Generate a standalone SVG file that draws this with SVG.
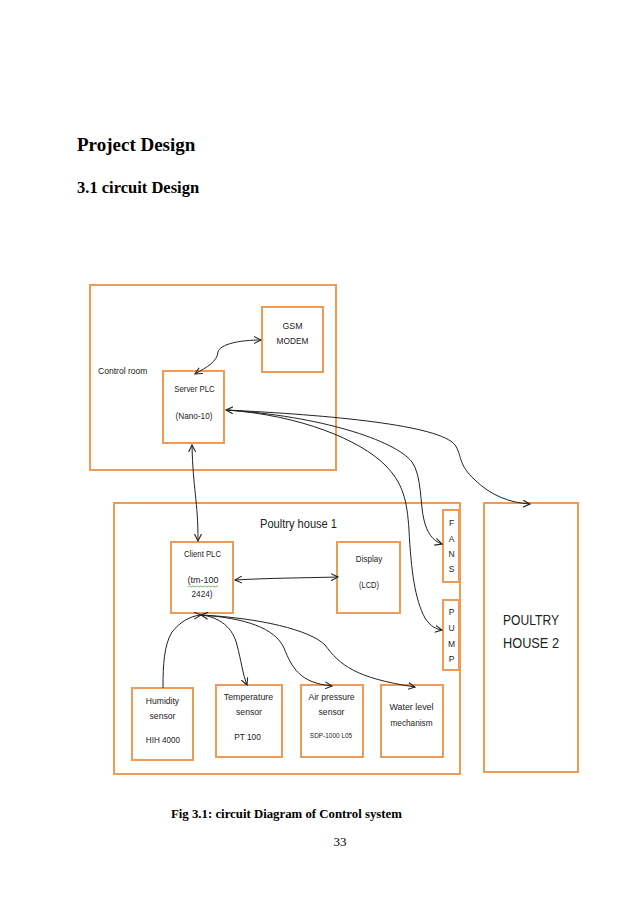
<svg xmlns="http://www.w3.org/2000/svg" width="638" height="903" viewBox="0 0 638 903">
<style>
.box{fill:none;stroke:#F09A55;stroke-width:2}
.lbl{font-family:"Liberation Sans",Arial,sans-serif;fill:#222;text-anchor:middle}
.hd{font-family:"Liberation Serif","Times New Roman",serif;font-weight:bold;fill:#000}
.conn{fill:none;stroke:#222;stroke-width:1}
</style>
<defs>
<marker id="ah" viewBox="0 0 8 8" refX="7" refY="4" markerWidth="8" markerHeight="8" markerUnits="userSpaceOnUse" orient="auto-start-reverse">
<path d="M0,0.5 L7,4 L0,7.5" fill="none" stroke="#222" stroke-width="1.1"/>
</marker>
</defs>
<rect width="638" height="903" fill="#fff"/>
<text class="hd" x="77" y="151" font-size="19">Project Design</text>
<text class="hd" x="77" y="193" font-size="16.5">3.1 circuit Design</text>

<g id="control-room">
<rect class="box" x="90" y="285" width="246" height="185"/>
<text class="lbl" x="98" y="374" font-size="9.3" textLength="49.5" lengthAdjust="spacingAndGlyphs" style="text-anchor:start">Control  room</text>
</g>
<g id="gsm-modem">
<rect class="box" x="262" y="307" width="61" height="65"/>
<text class="lbl" x="292.5" y="329" font-size="9.3" textLength="20" lengthAdjust="spacingAndGlyphs">GSM</text>
<text class="lbl" x="292.5" y="344" font-size="9.3" textLength="32" lengthAdjust="spacingAndGlyphs">MODEM</text>
</g>
<g id="server-plc">
<rect class="box" x="163" y="371" width="61" height="72"/>
<text class="lbl" x="194.5" y="392" font-size="9.3" textLength="40.5" lengthAdjust="spacingAndGlyphs">Server PLC</text>
<text class="lbl" x="194" y="419" font-size="9.3" textLength="37" lengthAdjust="spacingAndGlyphs">(Nano-10)</text>
</g>
<g id="poultry-house-1">
<rect class="box" x="114" y="503" width="346" height="271"/>
<text class="lbl" x="260" y="528" font-size="12" textLength="77" lengthAdjust="spacingAndGlyphs" style="text-anchor:start">Poultry house 1</text>
</g>
<g id="client-plc">
<rect class="box" x="171" y="542" width="62" height="71"/>
<text class="lbl" x="202.5" y="557" font-size="8.5" textLength="37" lengthAdjust="spacingAndGlyphs">Client  PLC</text>
<text class="lbl" x="203" y="583" font-size="9.3" textLength="31" lengthAdjust="spacingAndGlyphs">(tm-100</text>
<path d="M188,586.5 q1,-1 2,0 t2,0 t2,0 t2,0 t2,0 t2,0 t2,0 t2,0 t2,0 t2,0 t2,0 t2,0 t2,0 t2,0 t2,0" fill="none" stroke="#5AAA4A" stroke-width="0.8"/>
<text class="lbl" x="202" y="597" font-size="9.3" textLength="21" lengthAdjust="spacingAndGlyphs">2424)</text>
</g>
<g id="display">
<rect class="box" x="337" y="542" width="63" height="71"/>
<text class="lbl" x="369" y="562" font-size="9" textLength="26.3" lengthAdjust="spacingAndGlyphs">Display</text>
<text class="lbl" x="369" y="588" font-size="9" textLength="20" lengthAdjust="spacingAndGlyphs">(LCD)</text>
</g>
<g id="fans">
<rect class="box" x="443" y="510" width="16" height="72"/>
<text class="lbl" x="451.5" y="526" font-size="8.5">F</text>
<text class="lbl" x="451.5" y="542" font-size="8.5">A</text>
<text class="lbl" x="451.5" y="557" font-size="8.5">N</text>
<text class="lbl" x="451.5" y="572" font-size="8.5">S</text>
</g>
<g id="pump">
<rect class="box" x="443" y="600" width="16" height="70"/>
<text class="lbl" x="451.5" y="615" font-size="8.5">P</text>
<text class="lbl" x="451.5" y="631" font-size="8.5">U</text>
<text class="lbl" x="451.5" y="647" font-size="8.5">M</text>
<text class="lbl" x="451.5" y="662" font-size="8.5">P</text>
</g>
<g id="poultry-house-2">
<rect class="box" x="484" y="503" width="94" height="269"/>
<text class="lbl" x="531" y="625" font-size="15.5" textLength="56" lengthAdjust="spacingAndGlyphs">POULTRY</text>
<text class="lbl" x="531" y="648" font-size="15.5" textLength="56" lengthAdjust="spacingAndGlyphs">HOUSE 2</text>
</g>
<g id="humidity-sensor">
<rect class="box" x="132" y="688" width="61" height="72"/>
<text class="lbl" x="162.5" y="704" font-size="9.3" textLength="33.3" lengthAdjust="spacingAndGlyphs">Humidity</text>
<text class="lbl" x="162.5" y="719" font-size="9.3" textLength="26" lengthAdjust="spacingAndGlyphs">sensor</text>
<text class="lbl" x="163" y="743" font-size="9" textLength="34.3" lengthAdjust="spacingAndGlyphs">HIH 4000</text>
</g>
<g id="temperature-sensor">
<rect class="box" x="216" y="685" width="66" height="72"/>
<text class="lbl" x="248.5" y="700" font-size="9.3" textLength="49.3" lengthAdjust="spacingAndGlyphs">Temperature</text>
<text class="lbl" x="249" y="715" font-size="9.3" textLength="26" lengthAdjust="spacingAndGlyphs">sensor</text>
<text class="lbl" x="247.5" y="740" font-size="9" textLength="26.7" lengthAdjust="spacingAndGlyphs">PT 100</text>
</g>
<g id="air-pressure-sensor">
<rect class="box" x="301" y="685" width="62" height="72"/>
<text class="lbl" x="331.5" y="700" font-size="9.3" textLength="46" lengthAdjust="spacingAndGlyphs">Air pressure</text>
<text class="lbl" x="331.5" y="715" font-size="9.3" textLength="26" lengthAdjust="spacingAndGlyphs">sensor</text>
<text class="lbl" x="331" y="738" font-size="7" textLength="42.3" lengthAdjust="spacingAndGlyphs">SDP-1000  L05</text>
</g>
<g id="water-level-mechanism">
<rect class="box" x="381" y="685" width="62" height="72"/>
<text class="lbl" x="411.5" y="710" font-size="9.5" textLength="44" lengthAdjust="spacingAndGlyphs">Water level</text>
<text class="lbl" x="411.5" y="726" font-size="9.3" textLength="42" lengthAdjust="spacingAndGlyphs">mechanism</text>
</g>

<g id="connectors">
<path class="conn" marker-start="url(#ah)" marker-end="url(#ah)" d="M195,374 C207,367 217,362 218,352 C220,344 240,340 261,340"/>
<path class="conn" marker-start="url(#ah)" marker-end="url(#ah)" d="M192,445 C193,490 198,500 198,541"/>
<path class="conn" marker-start="url(#ah)" marker-end="url(#ah)" d="M235,580 C270,578 300,578 338,577"/>
<path class="conn" marker-start="url(#ah)" marker-end="url(#ah)" d="M226,410 C330,415 440,425 455,445 C462,455 458,465 475,480 C490,495 510,503 530,504"/>
<path class="conn" d="M226,410 C320,416 395,440 412,462 C422,476 420,505 424,520 C427,533 433,541 442,544" marker-end="url(#ah)"/>
<path class="conn" d="M226,410 C300,415 360,440 385,465 C403,483 407,500 409,530 C411,570 415,600 425,618 C431,627 436,629 442,630" marker-end="url(#ah)"/>
<path class="conn" marker-start="url(#ah)" d="M201,615 C190,616 180,622 172,632 C164,645 163,665 163,688"/>
<path class="conn" marker-start="url(#ah)" marker-end="url(#ah)" d="M201,615 C220,617 233,628 237,645 C241,660 243,675 247,685"/>
<path class="conn" marker-end="url(#ah)" d="M201,615 C245,618 275,628 284,648 C292,668 300,683 332,686"/>
<path class="conn" marker-end="url(#ah)" d="M201,615 C260,618 310,630 325,645 C340,665 355,678 415,687"/>
</g>

<text class="hd" x="171" y="818" font-size="12.8">Fig 3.1: circuit Diagram of Control system</text>
<text x="340" y="846" font-family="'Liberation Serif','Times New Roman',serif" font-size="13" text-anchor="middle" fill="#000">33</text>
</svg>
